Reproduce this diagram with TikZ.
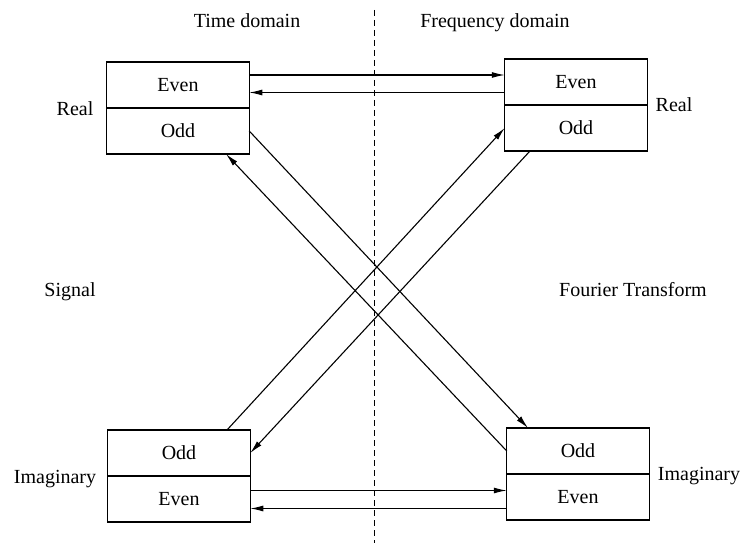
\documentclass[tikz,border=0pt]{standalone}
\usepackage{fontspec}
\setmainfont{Liberation Serif}
\usetikzlibrary{arrows.meta}
\begin{document}
\begin{tikzpicture}[x=1pt,y=-1pt,
  cell/.style={draw, line width=1.1pt, minimum width=142.5pt, minimum height=46pt,
    inner sep=0pt, outer sep=0pt, font=\fontsize{20}{24}\selectfont},
  lbl/.style={inner sep=0pt, anchor=base, font=\fontsize{20}{24}\selectfont},
  link/.style={line width=1.1pt, -{Latex[length=13pt,width=6pt]}},
  divider/.style={line width=0.9pt, dash pattern=on 6pt off 4pt}]
\useasboundingbox (0,0) rectangle (740,543);

% two-part boxes: real part (top row) and imaginary part (bottom row)
\node[cell] (tle) at (178,85)  {Even};
\node[cell] (tlo) at (178,131) {Odd};
\node[cell] (tre) at (576,82)  {Even};
\node[cell] (tro) at (576,128) {Odd};
\node[cell] (blo) at (179,453) {Odd};
\node[cell] (ble) at (179,499) {Even};
\node[cell] (bro) at (578,451) {Odd};
\node[cell] (bre) at (578,497) {Even};

% side and column labels
\node[lbl] (realL) at (75,116)   {Real};
\node[lbl] (realR) at (674,111.5) {Real};
\node[lbl] (imagL) at (55,483)   {Imaginary};
\node[lbl] (imagR) at (699,480)  {Imaginary};
\node[lbl] (sig)   at (70,296)   {Signal};
\node[lbl] (ft)    at (633,296)  {Fourier Transform};
\node[lbl] (td)    at (247,28)   {Time domain};
\node[lbl] (fd)    at (495,28)   {Frequency domain};

% dashed separator between the two domains
\coordinate (dtop) at (374,10);
\coordinate (dbot) at (374,543);
\draw[divider] (dtop) -- (dbot);

% horizontal pairs of arrows
\coordinate (h1) at (0,75);
\coordinate (h2) at (0,92.5);
\coordinate (h3) at (0,490.5);
\coordinate (h4) at (0,508.5);
\draw[link] (tle.east |- h1) -- (tre.west |- h1);
\draw[link] (tre.west |- h2) -- (tle.east |- h2);
\draw[link] (ble.east |- h3) -- (bre.west |- h3);
\draw[link] (bre.west |- h4) -- (ble.east |- h4);

% crossing diagonal arrows
\draw[link] (tlo.east) -- ([xshift=-50pt]bro.north);
\draw[link] (bro.west) -- ([xshift=48pt]tlo.south);
\draw[link] ([xshift=48pt]blo.north) -- (tro.west);
\draw[link] ([xshift=-46pt]tro.south) -- (blo.east);
\end{tikzpicture}
\end{document}
